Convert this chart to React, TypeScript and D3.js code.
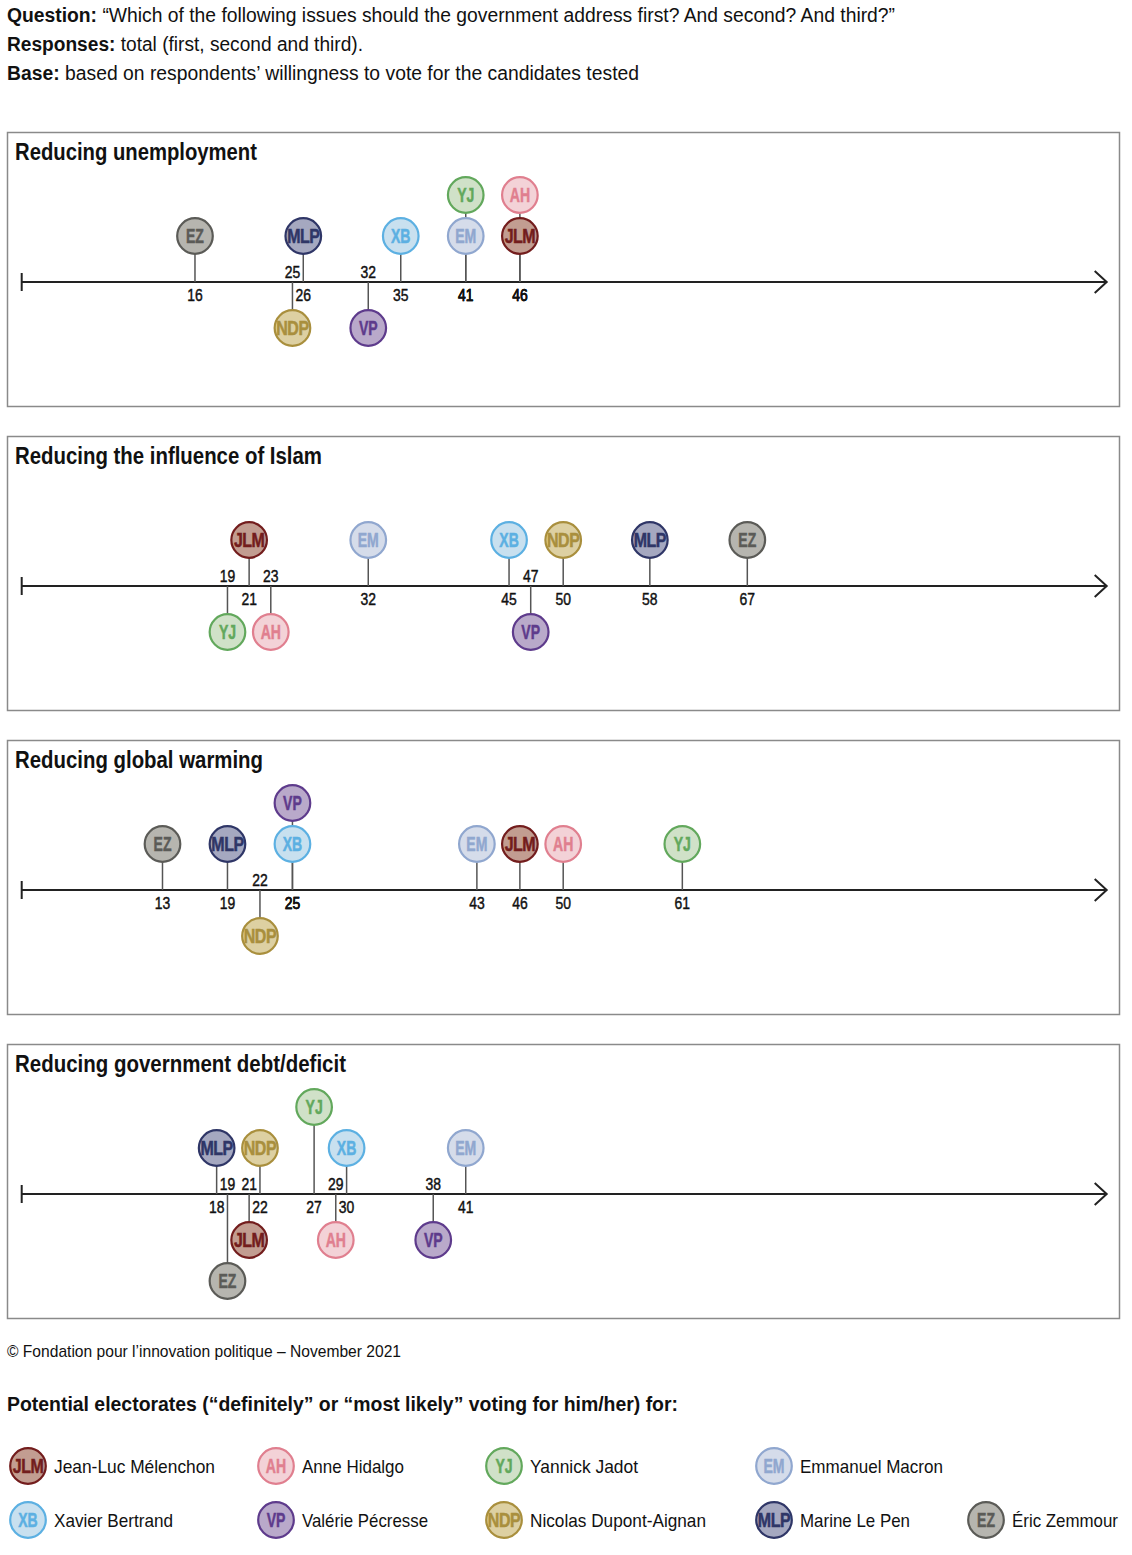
import React from "react";
import * as d3 from "d3";

const candidates = ["JLM", "AH", "YJ", "EM", "XB", "VP", "NDP", "MLP", "EZ"];
const candidateNames = [
  "Jean-Luc Mélenchon",
  "Anne Hidalgo",
  "Yannick Jadot",
  "Emmanuel Macron",
  "Xavier Bertrand",
  "Valérie Pécresse",
  "Nicolas Dupont-Aignan",
  "Marine Le Pen",
  "Éric Zemmour",
];
const fillColors = ["#c29d91", "#f3d2d7", "#d0e1c8", "#d5dcea", "#c8e0ef", "#b9a9ca", "#ddd0a2", "#a5a8c0", "#b6b5af"];
const strokeColors = ["#731d1d", "#e07f8f", "#62a85c", "#90a7cf", "#5cb0e2", "#5e3b8c", "#a98f3d", "#2f3667", "#5b5b57"];

const panelTitles = [
  "Reducing unemployment",
  "Reducing the influence of Islam",
  "Reducing global warming",
  "Reducing government debt/deficit",
];
// values in candidate order
const unemploymentValues = [46, 46, 41, 41, 35, 32, 25, 26, 16];
const islamValues = [21, 23, 19, 32, 45, 47, 50, 58, 67];
const warmingValues = [46, 50, 61, 43, 25, 25, 22, 19, 13];
const debtValues = [21, 29, 27, 41, 30, 38, 22, 18, 19];
// stacking level of each bubble (positive = above axis, negative = below)
const unemploymentLevels = [1, 2, 2, 1, 1, -1, -1, 1, 1];
const islamLevels = [1, -1, -1, 1, 1, -1, 1, 1, 1];
const warmingLevels = [1, 1, 1, 1, 1, 2, -1, 1, 1];
const debtLevels = [-1, -1, 2, 1, 1, -1, 1, 1, -2];

const panelValues = [unemploymentValues, islamValues, warmingValues, debtValues];
const panelLevels = [unemploymentLevels, islamLevels, warmingLevels, debtLevels];

// layout: rendered text widths (px) to emulate the condensed typeface
const titleWidths = [242, 307, 248, 331];
const legendNameWidths = [161, 102, 108, 143, 119, 126, 176, 110, 106];

const FONT = "'Liberation Sans', Arial, sans-serif";

const W = 1132;
const H = 1555;

function Bubble({ cx, cy, i }: { cx: number; cy: number; i: number }) {
  const label = candidates[i];
  const sx = label.length > 2 ? 0.82 : 0.72;
  return (
    <g>
      <circle cx={cx} cy={cy} r={17.8} fill={fillColors[i]} stroke={strokeColors[i]} strokeWidth={2.2} />
      <text
        transform={`translate(${cx},${cy + 7}) scale(${sx},1)`}
        textAnchor="middle"
        fontFamily={FONT}
        fontWeight="bold"
        fontSize={19.5}
        letterSpacing={label.length > 2 ? -0.6 : 0}
        fill={strokeColors[i]}
        stroke={strokeColors[i]}
        strokeWidth={0.5}
      >
        {label}
      </text>
    </g>
  );
}

// push apart bubbles at the same level that would overlap (lower value moves left)
function placeX(vals: number[], lvls: number[], x: (v: number) => number, gap: number) {
  const px = vals.map((v) => x(v));
  const byLevel = d3.group(d3.range(vals.length), (i) => lvls[i]);
  byLevel.forEach((idx) => {
    const sorted = idx.slice().sort((a, b) => vals[b] - vals[a]);
    for (let k = 1; k < sorted.length; k++) {
      const prev = sorted[k - 1];
      const cur = sorted[k];
      if (px[prev] - px[cur] > 0.5 && px[prev] - px[cur] < gap) px[cur] = px[prev] - gap;
    }
  });
  return px;
}

export default function App() {
  const x = d3.scaleLinear().domain([0, 100]).range([21.7, 1104.7]);
  const panelTop0 = 132;
  const panelStep = 304;
  const panelH = 274;
  const levelOffset = (lvl: number) => {
    const a = Math.abs(lvl);
    const d = a === 1 ? 46 : 87;
    return lvl > 0 ? -d : d;
  };

  return (
    <svg
      width={W}
      height={H}
      style={{ position: "absolute", left: 0, top: 0, background: "#fff" }}
      fontFamily={FONT}
    >
      {/* header */}
      <text x={7} y={22} fontSize={20} fill="#111" textLength={888} lengthAdjust="spacingAndGlyphs">
        <tspan fontWeight="bold">Question:</tspan> “Which of the following issues should the government address first? And second? And third?”
      </text>
      <text x={7} y={51} fontSize={20} fill="#111" textLength={356} lengthAdjust="spacingAndGlyphs">
        <tspan fontWeight="bold">Responses:</tspan> total (first, second and third).
      </text>
      <text x={7} y={80} fontSize={20} fill="#111" textLength={632} lengthAdjust="spacingAndGlyphs">
        <tspan fontWeight="bold">Base:</tspan> based on respondents’ willingness to vote for the candidates tested
      </text>

      {panelTitles.map((title, p) => {
        const top = panelTop0 + p * panelStep;
        const axisY = top + 150;
        const vals = panelValues[p];
        const lvls = panelLevels[p];
        const px = placeX(vals, lvls, x, 43);
        const x0 = x(0);
        const x1 = x(100);
        return (
          <g key={title}>
            <rect x={7.5} y={top + 0.5} width={1112} height={panelH} fill="none" stroke="#8a8a8a" strokeWidth={1.5} />
            <text
              x={15}
              y={top + 28}
              fontSize={23}
              fontWeight="bold"
              fill="#111"
              textLength={titleWidths[p]}
              lengthAdjust="spacingAndGlyphs"
            >
              {title}
            </text>
            {/* axis */}
            <line x1={x0} x2={x1 + 1} y1={axisY} y2={axisY} stroke="#222" strokeWidth={2} />
            <line x1={x0} x2={x0} y1={axisY - 9} y2={axisY + 9} stroke="#222" strokeWidth={2} />
            <path
              d={`M${x1 - 10},${axisY - 11} L${x1 + 2},${axisY} L${x1 - 10},${axisY + 11}`}
              fill="none"
              stroke="#222"
              strokeWidth={2}
            />
            {/* stems */}
            {vals.map((v, i) => (
              <line
                key={"s" + i}
                x1={px[i]}
                x2={px[i]}
                y1={axisY}
                y2={axisY + levelOffset(lvls[i])}
                stroke="#555"
                strokeWidth={1.5}
              />
            ))}
            {/* value labels */}
            {vals.map((v, i) => (
              <text
                key={"t" + i}
                transform={`translate(${px[i]},${lvls[i] > 0 ? axisY + 19 : axisY - 4}) scale(0.82,1)`}
                textAnchor="middle"
                fontSize={17}
                fill="#111"
                stroke="#111"
                strokeWidth={0.45}
              >
                {v}
              </text>
            ))}
            {/* bubbles */}
            {vals.map((v, i) => (
              <Bubble key={"b" + i} cx={px[i]} cy={axisY + levelOffset(lvls[i])} i={i} />
            ))}
          </g>
        );
      })}

      <text x={7} y={1357} fontSize={17} fill="#111" textLength={394} lengthAdjust="spacingAndGlyphs">
        © Fondation pour l’innovation politique – November 2021
      </text>
      <text x={7} y={1411} fontSize={21} fontWeight="bold" fill="#111" textLength={671} lengthAdjust="spacingAndGlyphs">
        Potential electorates (“definitely” or “most likely” voting for him/her) for:
      </text>

      {/* legend */}
      {candidates.map((c, i) => {
        const colXs = [28, 276, 504, 774, 986];
        const row = i < 4 ? 0 : 1;
        const col = i < 4 ? i : i - 4;
        const cx = colXs[col];
        const cy = row === 0 ? 1466 : 1520;
        return (
          <g key={"lg" + c}>
            <Bubble cx={cx} cy={cy} i={i} />
            <text
              x={cx + 26}
              y={cy + 7}
              fontSize={19}
              fill="#111"
              textLength={legendNameWidths[i]}
              lengthAdjust="spacingAndGlyphs"
            >
              {candidateNames[i]}
            </text>
          </g>
        );
      })}
    </svg>
  );
}
